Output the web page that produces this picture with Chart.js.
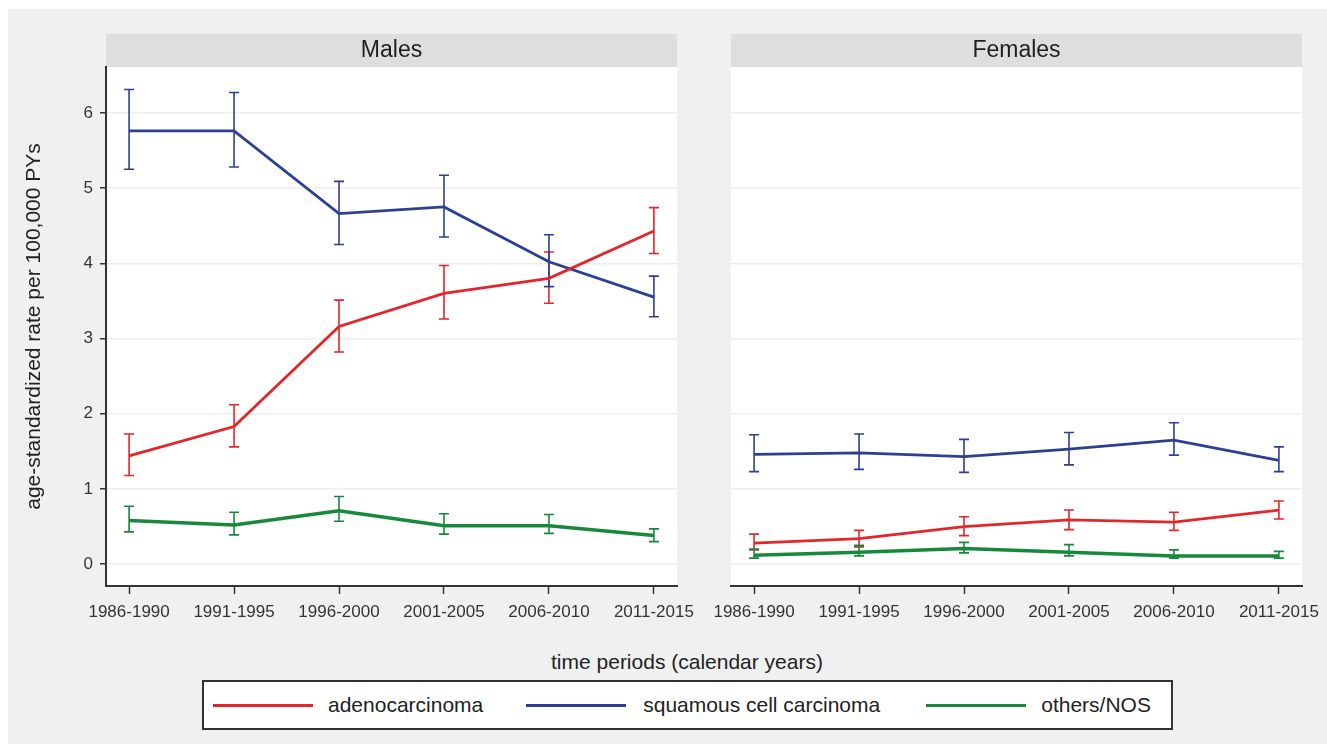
<!DOCTYPE html>
<html>
<head>
<meta charset="utf-8">
<script src="https://cdn.jsdelivr.net/npm/chart.js@4"></script>
<style>
  body { margin: 0; background: #ffffff; font-family: "Liberation Sans", Arial, sans-serif; }
  #bg { position: absolute; left: 8px; top: 9px; width: 1319px; height: 735px; background: #f0f0f0; }
  canvas { position: absolute; top: 0; }
  #males { left: 0; }
  #females { left: 700px; }
  #xtitle { position: absolute; left: 487px; top: 650px; width: 400px; text-align: center;
    font-size: 21px; line-height: 24px; color: #222; }
  #legend { position: absolute; left: 202px; top: 680px; width: 967px; height: 46px;
    border: 2px solid #333; background: #ffffff; display: flex; align-items: center;
    font-size: 21px; color: #222; }
  #legend .sw { display: inline-block; width: 100px; height: 3px; }
</style>
</head>
<body>
<div id="bg"></div>
<canvas id="males" width="700" height="640"></canvas>
<canvas id="females" width="627" height="640"></canvas>
<div id="xtitle">time periods (calendar years)</div>
<div id="legend"></div>
<script>
const periods = ["1986-1990", "1991-1995", "1996-2000", "2001-2005", "2006-2010", "2011-2015"];
const yTicks = [0, 1, 2, 3, 4, 5, 6];
const seriesNames = ["adenocarcinoma", "squamous cell carcinoma", "others/NOS"];
const seriesColors = ["#e3262b", "#2d3f93", "#16893c"];

// males
const maleAdeno = [1.44, 1.83, 3.16, 3.60, 3.80, 4.43];
const maleAdenoLo = [1.18, 1.56, 2.82, 3.26, 3.47, 4.13];
const maleAdenoHi = [1.73, 2.12, 3.51, 3.97, 4.15, 4.74];
const maleSquam = [5.76, 5.76, 4.66, 4.75, 4.02, 3.55];
const maleSquamLo = [5.25, 5.28, 4.25, 4.35, 3.69, 3.29];
const maleSquamHi = [6.31, 6.27, 5.09, 5.17, 4.38, 3.83];
const maleOther = [0.58, 0.52, 0.71, 0.51, 0.51, 0.38];
const maleOtherLo = [0.43, 0.39, 0.57, 0.40, 0.41, 0.30];
const maleOtherHi = [0.77, 0.69, 0.90, 0.67, 0.66, 0.47];

// females
const femAdeno = [0.28, 0.34, 0.50, 0.59, 0.56, 0.72];
const femAdenoLo = [0.19, 0.23, 0.38, 0.46, 0.45, 0.60];
const femAdenoHi = [0.40, 0.45, 0.63, 0.72, 0.69, 0.84];
const femSquam = [1.46, 1.48, 1.43, 1.53, 1.65, 1.38];
const femSquamLo = [1.23, 1.26, 1.22, 1.32, 1.45, 1.23];
const femSquamHi = [1.72, 1.73, 1.66, 1.75, 1.88, 1.56];
const femOther = [0.12, 0.16, 0.21, 0.16, 0.11, 0.11];
const femOtherLo = [0.08, 0.11, 0.15, 0.11, 0.08, 0.08];
const femOtherHi = [0.20, 0.25, 0.29, 0.26, 0.19, 0.17];

const tickFont = { family: "Liberation Sans", size: 17 };

function makeSet(i, vals, lo, hi) {
  return {
    label: seriesNames[i],
    data: vals.map((v, k) => ({ x: k, y: v })),
    lo, hi,
    borderColor: seriesColors[i],
    backgroundColor: seriesColors[i],
    borderWidth: i === 2 ? 3.5 : 2.8,
    pointRadius: 0,
    tension: 0,
  };
}

// panel background, header strip and error bars
const panelPlugin = {
  id: "panel",
  beforeDraw(chart) {
    const { ctx, chartArea: a } = chart;
    ctx.save();
    ctx.fillStyle = "#ffffff";
    ctx.fillRect(a.left, a.top, a.right - a.left, a.bottom - a.top);
    ctx.fillStyle = "#dedede";
    ctx.fillRect(a.left, a.top - 33, a.right - a.left, 33);
    ctx.restore();
  },
  beforeDatasetsDraw(chart) {
    const { ctx, scales: { x, y } } = chart;
    ctx.save();
    ctx.lineWidth = 1.6;
    chart.data.datasets.forEach((ds) => {
      ctx.strokeStyle = ds.borderColor;
      ds.data.forEach((p, k) => {
        const px = x.getPixelForValue(p.x);
        const top = y.getPixelForValue(ds.hi[k]);
        const bot = y.getPixelForValue(ds.lo[k]);
        ctx.beginPath();
        ctx.moveTo(px, top);
        ctx.lineTo(px, bot);
        ctx.moveTo(px - 5, top);
        ctx.lineTo(px + 5, top);
        ctx.moveTo(px - 5, bot);
        ctx.lineTo(px + 5, bot);
        ctx.stroke();
      });
    });
    ctx.restore();
  },
};

function makeChart(id, title, sets, showY) {
  return new Chart(document.getElementById(id), {
    type: "line",
    data: { datasets: sets },
    plugins: [panelPlugin],
    options: {
      responsive: false,
      animation: false,
      devicePixelRatio: 1,
      layout: { padding: { left: 0, right: showY ? 23 : 25, top: 0, bottom: 0 } },
      plugins: {
        legend: { display: false },
        tooltip: { enabled: false },
        title: {
          display: true,
          text: title,
          fullSize: false,
          color: "#1e1e1e",
          font: { family: "Liberation Sans", size: 23, weight: "normal" },
          padding: { top: 37, bottom: 2.4 },
        },
      },
      scales: {
        x: {
          type: "linear",
          min: -0.22,
          max: 5.22,
          afterBuildTicks: (s) => { s.ticks = periods.map((p, k) => ({ value: k })); },
          afterFit: (s) => { s.height = 54; s.paddingLeft = 0; s.paddingRight = 0; },
          ticks: {
            callback: (v) => periods[v],
            autoSkip: false,
            maxRotation: 0,
            color: "#333",
            font: tickFont,
            padding: 8,
          },
          grid: { drawOnChartArea: false, tickColor: "#333", tickLength: 8, tickWidth: 1.5 },
          border: { color: "#333", width: 2 },
        },
        y: {
          min: -0.29,
          max: 6.61,
          afterBuildTicks: (s) => { s.ticks = yTicks.map((v) => ({ value: v })); },
          afterFit: (s) => { s.width = showY ? 106 : 31; },
          ticks: { display: showY, color: "#333", font: tickFont, padding: 7 },
          grid: {
            color: "#eeeeee",
            lineWidth: 1.5,
            drawTicks: showY,
            tickColor: "#333",
            tickLength: 6,
            tickWidth: 1.5,
          },
          border: { display: showY, color: "#333", width: 2 },
          title: {
            display: showY,
            text: "age-standardized rate per 100,000 PYs",
            color: "#222",
            font: { family: "Liberation Sans", size: 21 },
            padding: { top: 22, bottom: 0 },
          },
        },
      },
    },
  });
}

makeChart("males", "Males", [
  makeSet(0, maleAdeno, maleAdenoLo, maleAdenoHi),
  makeSet(1, maleSquam, maleSquamLo, maleSquamHi),
  makeSet(2, maleOther, maleOtherLo, maleOtherHi),
], true);

makeChart("females", "Females", [
  makeSet(0, femAdeno, femAdenoLo, femAdenoHi),
  makeSet(1, femSquam, femSquamLo, femSquamHi),
  makeSet(2, femOther, femOtherLo, femOtherHi),
], false);

// legend
const legend = document.getElementById("legend");
const gapsBefore = [9, 43, 46];
seriesNames.forEach((name, i) => {
  const sw = document.createElement("span");
  sw.className = "sw";
  sw.style.background = seriesColors[i];
  sw.style.marginLeft = gapsBefore[i] + "px";
  const tx = document.createElement("span");
  tx.textContent = name;
  tx.style.marginLeft = (i === 1 ? 17 : 15) + "px";
  legend.appendChild(sw);
  legend.appendChild(tx);
});
</script>
</body>
</html>
